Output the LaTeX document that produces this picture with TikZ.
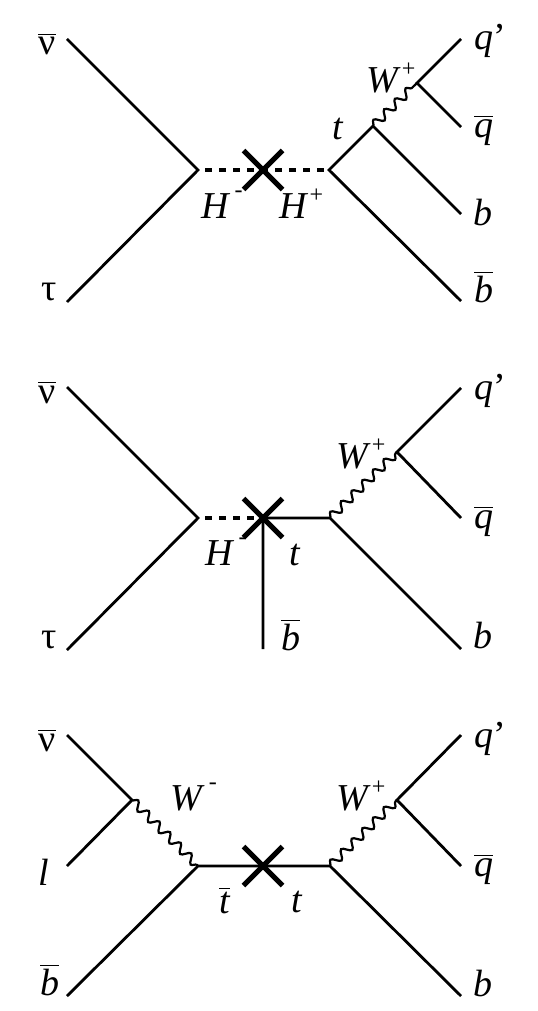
\documentclass[tikz,border=0pt]{standalone}
\usepackage{fontspec}
\setmainfont{Liberation Serif}
\usetikzlibrary{positioning,decorations.pathmorphing,shapes.misc}
\newcommand{\bbar}[1]{$\overline{\hbox{#1}}$}
\newcommand{\chp}{\kern0.5pt\raisebox{8pt}{\fontsize{12}{12}\selectfont +}}
\newcommand{\chm}{\kern2pt\raisebox{10.5pt}{\fontsize{12}{12}\selectfont -}}
\tikzset{
  fer/.style  ={line width=1.4pt},
  scal/.style ={line width=1.6pt, dash pattern=on 3.5pt off 3.5pt, dash phase=3.5pt},
  bos/.style  ={line width=1.1pt, decorate,
                decoration={snake, amplitude=2.1pt, segment length=7.5pt}},
  xm/.style   ={cross out, draw, line width=2.5pt, minimum size=17pt, inner sep=0pt},
  lbl/.style  ={anchor=base west, inner sep=0pt, font=\fontsize{19}{22}\selectfont},
}

\begin{document}
\begin{tikzpicture}[x=0.5pt, y=-0.5pt]
  \useasboundingbox (0,0) rectangle (537,1011);

  % H- H+ s-channel
  \coordinate (nu1) at (67,39);
  \coordinate (tau1) at (67,302);
  \coordinate (v1) at (198,170);
  \coordinate (c1) at (263,170);
  \coordinate (u1) at (329,170);
  \coordinate (t1) at (373,126);
  \coordinate (w1) at (417,83);
  \coordinate (qp1) at (461,39);
  \coordinate (qb1) at (461,127);
  \coordinate (b1) at (461,214);
  \coordinate (bb1) at (461,301);

  \draw[fer] (nu1) -- (v1) -- (tau1);
  \draw[scal] (v1) -- (u1);
  \draw[fer] (bb1) -- (u1) -- (t1) -- (b1);
  \draw[bos] (t1) -- (w1);
  \draw[fer] (qp1) -- (w1) -- (qb1);
  \node[xm] (x1) at (c1) {};

  \node[lbl] (nu1l) at (38,55) {\bbar{ν}};
  \node[lbl] (tau1l) at (41,300) {τ};
  \node[lbl] (hm1l) at (201,218) {\textit{H}\chm};
  \node[lbl] (hp1l) at (279,218) {\textit{H}\chp};
  \node[lbl] (t1l) at (332,140) {\textit{t}};
  \node[lbl] (w1l) at (366,93) {\textit{W}\chp};
  \node[lbl] (qp1l) at (474,50) {\textit{q}’};
  \node[lbl] (qb1l) at (474,137) {\bbar{\itshape q}};
  \node[lbl] (b1l) at (473,225) {\textit{b}};
  \node[lbl] (bb1l) at (474,302) {\bbar{\itshape b}};

  % H- with t-channel top
  \coordinate (nu2) at (67,387);
  \coordinate (tau2) at (67,650);
  \coordinate (v2) at (198,518);
  \coordinate (c2) at (263,518);
  \coordinate (u2) at (330,518);
  \coordinate (w2) at (397,452);
  \coordinate (qp2) at (461,388);
  \coordinate (qb2) at (461,518);
  \coordinate (b2) at (461,649);
  \coordinate (bb2) at (263,649);

  \draw[fer] (nu2) -- (v2) -- (tau2);
  \draw[scal] (v2) -- (c2);
  \draw[fer] (bb2) -- (c2) -- (u2) -- (b2);
  \draw[bos] (u2) -- (w2);
  \draw[fer] (qp2) -- (w2) -- (qb2);
  \node[xm] (x2) at (c2) {};

  \node[lbl] (nu2l) at (38,403) {\bbar{ν}};
  \node[lbl] (tau2l) at (41,648) {τ};
  \node[lbl] (hm2l) at (205,565) {\textit{H}\chm};
  \node[lbl] (t2l) at (289,565) {\textit{t}};
  \node[lbl] (bb2l) at (281,650) {\bbar{\itshape b}};
  \node[lbl] (w2l) at (336,468) {\textit{W}\chp};
  \node[lbl] (qp2l) at (474,399) {\textit{q}’};
  \node[lbl] (qb2l) at (474,528) {\bbar{\itshape q}};
  \node[lbl] (b2l) at (473,648) {\textit{b}};

  % t tbar
  \coordinate (nu3) at (67,735);
  \coordinate (wl3) at (132,800);
  \coordinate (l3) at (67,866);
  \coordinate (v3) at (198,866);
  \coordinate (bb3) at (67,996);
  \coordinate (c3) at (263,866);
  \coordinate (u3) at (330,866);
  \coordinate (wr3) at (397,800);
  \coordinate (qp3) at (461,735);
  \coordinate (qb3) at (461,866);
  \coordinate (b3) at (461,996);

  \draw[fer] (nu3) -- (wl3) -- (l3);
  \draw[bos] (wl3) -- (v3);
  \draw[fer] (bb3) -- (v3) -- (u3) -- (b3);
  \draw[bos] (u3) -- (wr3);
  \draw[fer] (qp3) -- (wr3) -- (qb3);
  \node[xm] (x3) at (c3) {};

  \node[lbl] (nu3l) at (38,751) {\bbar{ν}};
  \node[lbl] (l3l) at (38,885) {\textit{l}};
  \node[lbl] (bb3l) at (40,995) {\bbar{\itshape b}};
  \node[lbl] (wl3l) at (170,810) {\textit{W}\chm};
  \node[lbl] (tb3l) at (219,913) {\bbar{\itshape t}};
  \node[lbl] (t3l) at (291,912) {\textit{t}};
  \node[lbl] (wr3l) at (336,810) {\textit{W}\chp};
  \node[lbl] (qp3l) at (474,747) {\textit{q}’};
  \node[lbl] (qb3l) at (474,876) {\bbar{\itshape q}};
  \node[lbl] (b3l) at (473,996) {\textit{b}};
\end{tikzpicture}
\end{document}
